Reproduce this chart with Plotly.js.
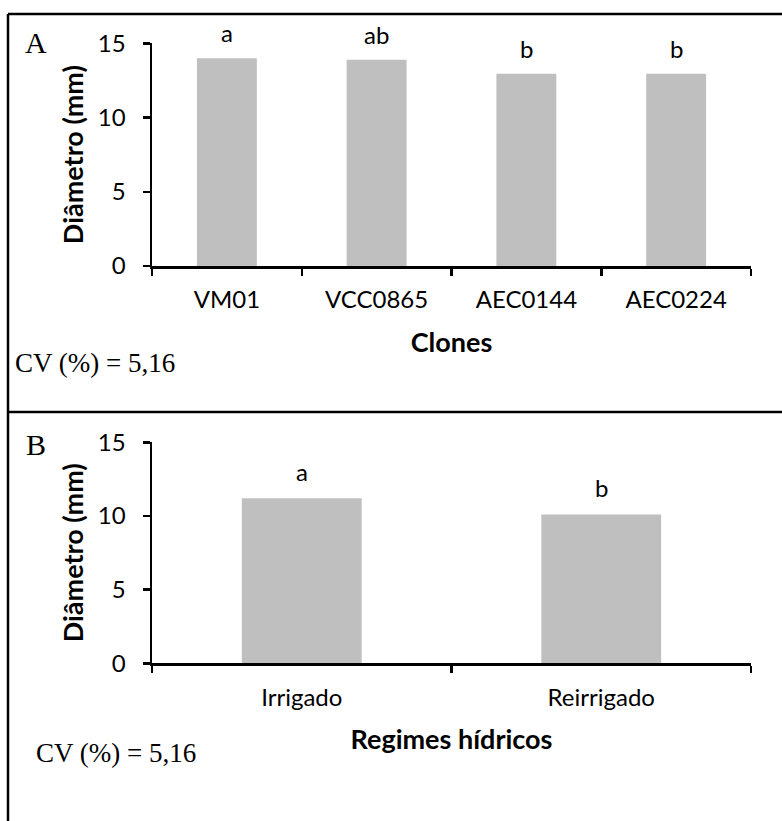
<!DOCTYPE html>
<html>
<head>
<meta charset="utf-8">
<script src="https://cdn.plot.ly/plotly-3.0.1.min.js"></script>
<style>html,body{margin:0;padding:0;background:#fff;}#chart{width:782px;height:821px;}</style>
</head>
<body>
<div id="chart"></div>
<script>
// Panel A data
const clones = ["VM01", "VCC0865", "AEC0144", "AEC0224"];
const diamClones = [14.0, 13.9, 12.95, 12.95];
const lettersClones = ["a", "ab", "b", "b"];
// Panel B data
const regimes = ["Irrigado", "Reirrigado"];
const diamRegimes = [11.2, 10.1];
const lettersRegimes = ["a", "b"];
// Text
const panelLabels = ["A", "B"];
const cvText = "CV (%) = 5,16";
const xTitleA = "Clones";
const xTitleB = "Regimes hídricos";
const yTitle = "Diâmetro (mm)";

const W = 782, H = 821;
const sans = "Lato, 'Open Sans', sans-serif";
const serif = "'Liberation Serif', 'DejaVu Serif', serif";
const barColor = "#bfbfbf";
const px = v => v / W;
const py = v => 1 - v / H;
const tickSize = 24, titleSize = 27;

const traces = [
  {type: "bar", x: clones, y: diamClones, xaxis: "x", yaxis: "y",
   marker: {color: barColor}, hoverinfo: "x+y", showlegend: false},
  {type: "bar", x: regimes, y: diamRegimes, xaxis: "x2", yaxis: "y2",
   marker: {color: barColor}, hoverinfo: "x+y", showlegend: false}
];

function xAxis(title, anchor) {
  return {
    domain: [px(152), px(751)], anchor: anchor, type: "category",
    tickson: "boundaries", ticks: "outside", ticklen: 7, tickwidth: 2.5, tickcolor: "#000",
    ticklabelstandoff: 11,
    showline: true, linecolor: "#000", linewidth: 2.5, showgrid: false, zeroline: false,
    tickfont: {family: sans, size: tickSize, color: "#000"},
    title: {text: "<b>" + title + "</b>", font: {family: sans, size: titleSize, color: "#000"}, standoff: 21},
    fixedrange: true
  };
}
function yAxis(top, bottom, anchor) {
  return {
    domain: [py(bottom), py(top)], anchor: anchor, range: [0, 15], dtick: 5, tick0: 0,
    ticks: "outside", ticklen: 7, tickwidth: 2.5, tickcolor: "#000",
    ticklabelstandoff: 12,
    showline: true, linecolor: "#000", linewidth: 2.5, showgrid: false, zeroline: false,
    tickfont: {family: sans, size: tickSize, color: "#000"},
    title: {text: "<b>" + yTitle + "</b>", font: {family: sans, size: titleSize, color: "#000"}, standoff: 7},
    fixedrange: true
  };
}

const annotations = [];
clones.forEach((c, i) => annotations.push({
  x: c, y: diamClones[i], xref: "x", yref: "y", text: lettersClones[i], showarrow: false,
  yanchor: "bottom", yshift: 9, font: {family: sans, size: tickSize, color: "#000"}
}));
regimes.forEach((c, i) => annotations.push({
  x: c, y: diamRegimes[i], xref: "x2", yref: "y2", text: lettersRegimes[i], showarrow: false,
  yanchor: "bottom", yshift: 10, font: {family: sans, size: tickSize, color: "#000"}
}));
annotations.push({x: px(23), y: py(61), xref: "paper", yref: "paper", xanchor: "left", yanchor: "bottom",
  text: panelLabels[0], showarrow: false, font: {family: serif, size: 30, color: "#000"}});
annotations.push({x: px(24), y: py(463), xref: "paper", yref: "paper", xanchor: "left", yanchor: "bottom",
  text: panelLabels[1], showarrow: false, font: {family: serif, size: 30, color: "#000"}});
annotations.push({x: px(13), y: py(380), xref: "paper", yref: "paper", xanchor: "left", yanchor: "bottom",
  text: cvText, showarrow: false, font: {family: serif, size: 27, color: "#000"}});
annotations.push({x: px(34), y: py(770), xref: "paper", yref: "paper", xanchor: "left", yanchor: "bottom",
  text: cvText, showarrow: false, font: {family: serif, size: 27, color: "#000"}});

const frame = {color: "#000", width: 2.5};
const shapes = [
  {type: "line", xref: "paper", yref: "paper", x0: px(8), x1: 1, y0: py(14), y1: py(14), line: frame},
  {type: "line", xref: "paper", yref: "paper", x0: px(8), x1: 1, y0: py(412), y1: py(412), line: frame},
  {type: "line", xref: "paper", yref: "paper", x0: px(8), x1: px(8), y0: py(14), y1: 0, line: frame}
];

const layout = {
  width: W, height: H, margin: {l: 0, r: 0, t: 0, b: 0},
  paper_bgcolor: "#fff", plot_bgcolor: "#fff", bargap: 0.6, showlegend: false,
  xaxis: xAxis(xTitleA, "y"), yaxis: yAxis(43.3, 266, "x"),
  xaxis2: xAxis(xTitleB, "y2"), yaxis2: yAxis(442.3, 663.3, "x2"),
  annotations: annotations, shapes: shapes
};

Plotly.newPlot("chart", traces, layout, {displayModeBar: false, staticPlot: true});
</script>
</body>
</html>
